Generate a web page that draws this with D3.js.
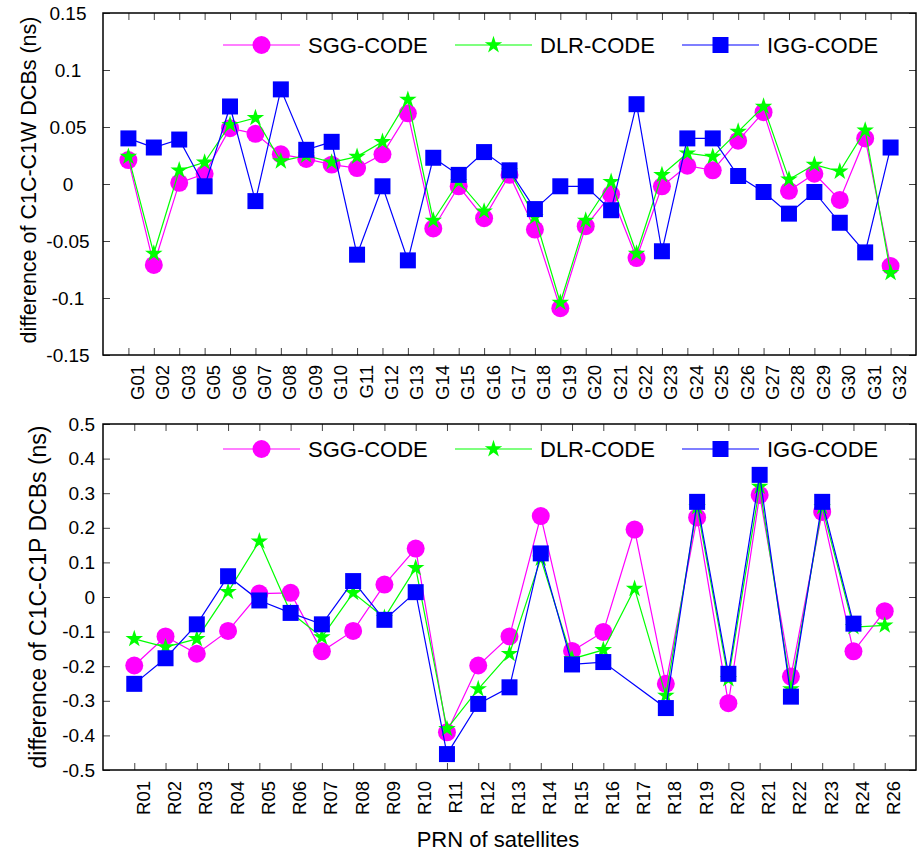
<!DOCTYPE html>
<html>
<head>
<meta charset="utf-8">
<script src="https://cdn.jsdelivr.net/npm/d3@7"></script>
<style>
  body { margin: 0; background: #fff; }
  svg { font-family: Arial, "Liberation Sans", sans-serif; }
</style>
</head>
<body>
<div id="chart"></div>
<script>
// GPS satellites (top panel)
var gPrn = ["G01","G02","G03","G05","G06","G07","G08","G09","G10","G11","G12","G13","G14","G15","G16",
            "G17","G18","G19","G20","G21","G22","G23","G24","G25","G26","G27","G28","G29","G30","G31","G32"];
var gSgg = [0.021,-0.071,0.001,0.009,0.049,0.044,0.026,0.022,0.017,0.014,0.026,0.062,-0.039,-0.002,-0.030,
            0.008,-0.040,-0.109,-0.037,-0.009,-0.065,-0.002,0.016,0.012,0.038,0.063,-0.006,0.009,-0.014,0.040,-0.072];
var gDlr = [0.024,-0.061,0.012,0.019,0.052,0.058,0.020,0.025,0.019,0.024,0.037,0.074,-0.032,0.002,-0.024,
            0.011,-0.029,-0.104,-0.032,0.002,-0.061,0.008,0.027,0.024,0.046,0.068,0.004,0.017,0.011,0.047,-0.078];
var gIgg = [0.040,0.032,0.039,-0.002,0.068,-0.015,0.083,0.030,0.037,-0.062,-0.002,-0.067,0.023,0.008,0.028,
            0.012,-0.022,-0.002,-0.002,-0.023,0.070,-0.059,0.040,0.040,0.007,-0.007,-0.026,-0.007,-0.034,-0.060,0.032];
var gTicks = [-0.15,-0.1,-0.05,0,0.05,0.1,0.15];

// GLONASS satellites (bottom panel), null = no value
var rPrn = ["R01","R02","R03","R04","R05","R06","R07","R08","R09","R10","R11","R12","R13",
            "R14","R15","R16","R17","R18","R19","R20","R21","R22","R23","R24","R26"];
var rSgg = [-0.198,-0.114,-0.164,-0.098,0.010,0.012,-0.157,-0.098,0.036,0.140,-0.391,-0.198,-0.114,
            0.234,-0.156,-0.101,0.195,-0.251,0.230,-0.307,0.295,-0.230,0.246,-0.157,-0.041];
var rDlr = [-0.121,-0.145,-0.121,0.015,0.161,-0.045,-0.116,0.012,-0.060,0.084,-0.381,-0.266,-0.164,
            0.111,-0.179,-0.153,0.024,-0.285,0.260,-0.237,0.319,-0.266,0.260,-0.087,-0.082];
var rIgg = [-0.251,-0.177,-0.079,0.060,-0.010,-0.046,-0.079,0.046,-0.066,0.014,-0.454,-0.309,-0.261,
            0.126,-0.195,-0.188,null,-0.321,0.275,-0.222,0.353,-0.288,0.275,-0.077,null];
var rTicks = [-0.5,-0.4,-0.3,-0.2,-0.1,0,0.1,0.2,0.3,0.4,0.5];

var seriesNames = ["SGG-CODE","DLR-CODE","IGG-CODE"];
var colors = ["#ff00ff","#00ff00","#0000ff"];
var symbols = [d3.symbolCircle, d3.symbolStar, d3.symbolSquare];
var symbolSizes = [254, 95, 256];

var width = 920, height = 853;

var svg = d3.select("#chart")
  .append("svg")
    .attr("width", width)
    .attr("height", height);

function drawPanel(opt) {
  var x = d3.scalePoint()
    .domain(opt.cats)
    .range([opt.left, opt.right])
    .padding(1);
  var y = d3.scaleLinear()
    .domain([opt.ticks[0], opt.ticks[opt.ticks.length - 1]])
    .range([opt.bottom, opt.top]);

  var g = svg.append("g");

  // bottom axis with inward ticks and rotated labels
  var xb = g.append("g")
    .attr("transform", "translate(0," + opt.bottom + ")")
    .call(d3.axisBottom(x).tickSize(-7).tickSizeOuter(0));
  xb.select(".domain").remove();
  xb.selectAll("line").attr("stroke", "#444");
  xb.selectAll("text")
    .attr("transform", "rotate(-90)")
    .attr("text-anchor", "end")
    .attr("x", -opt.labelGap)
    .attr("y", 0)
    .attr("dy", 15)
    .attr("fill", "#000")
    .style("font-size", "18.5px");

  // top ticks
  var xt = g.append("g")
    .attr("transform", "translate(0," + opt.top + ")")
    .call(d3.axisTop(x).tickSize(-7).tickSizeOuter(0).tickFormat(""));
  xt.select(".domain").remove();
  xt.selectAll("line").attr("stroke", "#444");

  // left axis
  var yl = g.append("g")
    .attr("transform", "translate(" + opt.left + ",0)")
    .call(d3.axisLeft(y).tickValues(opt.ticks).tickSize(-7).tickSizeOuter(0)
      .tickFormat(function(d) { return String(d); }));
  yl.select(".domain").remove();
  yl.selectAll("line").attr("stroke", "#444");
  yl.selectAll("text")
    .attr("fill", "#000")
    .attr("text-anchor", opt.yAnchor)
    .attr("x", opt.yLabelX - opt.left)
    .style("font-size", "19px");

  // right ticks
  var yr = g.append("g")
    .attr("transform", "translate(" + opt.right + ",0)")
    .call(d3.axisRight(y).tickValues(opt.ticks).tickSize(-7).tickSizeOuter(0).tickFormat(""));
  yr.select(".domain").remove();
  yr.selectAll("line").attr("stroke", "#444");

  // frame
  g.append("rect")
    .attr("x", opt.left)
    .attr("y", opt.top)
    .attr("width", opt.right - opt.left)
    .attr("height", opt.bottom - opt.top)
    .attr("fill", "none")
    .attr("stroke", "#000")
    .attr("stroke-width", 1.5);

  // y title
  g.append("text")
    .attr("transform", "translate(" + opt.titleX + "," + opt.titleY + ") rotate(-90)")
    .attr("text-anchor", "middle")
    .attr("dy", "0.35em")
    .style("font-size", opt.titleSize + "px")
    .text(opt.title);

  // series
  opt.series.forEach(function(vals, i) {
    var pts = opt.cats.map(function(c, j) { return {c: c, v: vals[j]}; })
      .filter(function(d) { return d.v !== null; });
    var line = d3.line()
      .x(function(d) { return x(d.c); })
      .y(function(d) { return y(d.v); });
    g.append("path")
      .datum(pts)
      .attr("d", line)
      .attr("fill", "none")
      .attr("stroke", colors[i])
      .attr("stroke-width", 1.2);
    g.selectAll(".m" + i)
      .data(pts)
      .enter().append("path")
        .attr("transform", function(d) { return "translate(" + x(d.c) + "," + y(d.v) + ")"; })
        .attr("d", d3.symbol().type(symbols[i]).size(symbolSizes[i]))
        .attr("fill", colors[i]);
  });

  // legend
  var legX = [223, 455, 682];
  var ly = opt.legendY;
  seriesNames.forEach(function(name, i) {
    var lg = g.append("g").attr("transform", "translate(" + legX[i] + "," + ly + ")");
    lg.append("line")
      .attr("x1", 0).attr("x2", 77)
      .attr("stroke", colors[i])
      .attr("stroke-width", 1.2);
    lg.append("path")
      .attr("transform", "translate(38.5,0)")
      .attr("d", d3.symbol().type(symbols[i]).size(symbolSizes[i]))
      .attr("fill", colors[i]);
    lg.append("text")
      .attr("x", 85)
      .attr("dy", "0.35em")
      .style("font-size", "22px")
      .text(name);
  });
}

drawPanel({
  cats: gPrn, series: [gSgg, gDlr, gIgg], ticks: gTicks,
  left: 103, right: 916, top: 13, bottom: 355,
  labelGap: 10, yAnchor: "middle", yLabelX: 68,
  title: "difference of C1C-C1W DCBs (ns)", titleX: 28, titleY: 180, titleSize: 21.5,
  legendY: 45
});

drawPanel({
  cats: rPrn, series: [rSgg, rDlr, rIgg], ticks: rTicks,
  left: 103, right: 916, top: 424, bottom: 770,
  labelGap: 11, yAnchor: "end", yLabelX: 95,
  title: "difference of C1C-C1P DCBs (ns)", titleX: 38, titleY: 597, titleSize: 23,
  legendY: 449
});

svg.append("text")
  .attr("x", 498)
  .attr("y", 847)
  .attr("text-anchor", "middle")
  .style("font-size", "22px")
  .text("PRN of satellites");
</script>
</body>
</html>
